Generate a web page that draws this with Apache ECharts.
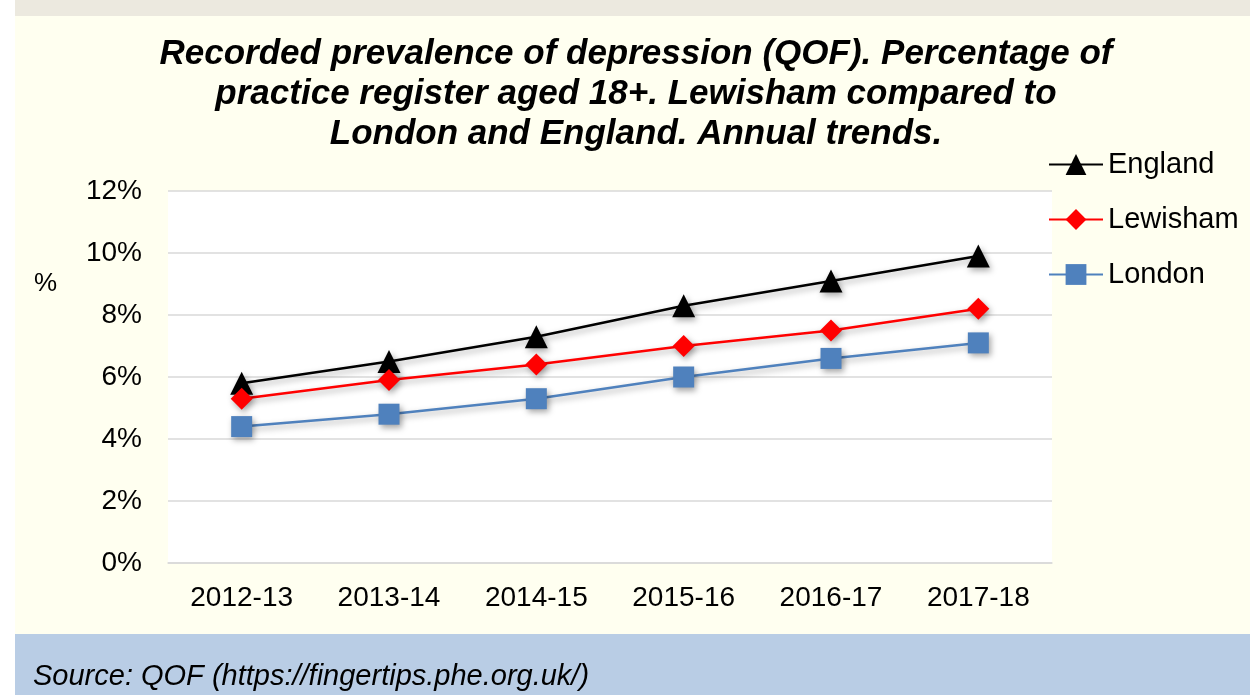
<!DOCTYPE html>
<html>
<head>
<meta charset="utf-8">
<script src="https://cdn.jsdelivr.net/npm/echarts@6/dist/echarts.min.js"></script>
<style>
  html, body { margin: 0; padding: 0; background: #fff; }
  #container { width: 1250px; height: 695px; }
</style>
</head>
<body>
<div id="container"></div>
<script>
// data
const years = ['2012-13', '2013-14', '2014-15', '2015-16', '2016-17', '2017-18'];
const england = [5.8, 6.5, 7.3, 8.3, 9.1, 9.9];
const lewisham = [5.3, 5.9, 6.4, 7.0, 7.5, 8.2];
const london = [4.4, 4.8, 5.3, 6.0, 6.6, 7.1];

(function () {
    const font = '"Liberation Sans", Arial, sans-serif';
    const shadow = { shadowBlur: 6, shadowColor: 'rgba(0,0,0,0.35)', shadowOffsetX: 2, shadowOffsetY: 3 };

    const makeSeries = (name, data, color, symbol, size) => {
        return {
            name: name,
            type: 'line',
            data: data,
            symbol: symbol,
            symbolSize: size,
            lineStyle: Object.assign({ color: color, width: 2.5 }, shadow),
            itemStyle: Object.assign({ color: color }, shadow),
            emphasis: { disabled: true },
            animation: false
        };
    };

    var dom = document.getElementById('container');
    var myChart = echarts.init(dom, null, { renderer: 'canvas' });

    myChart.setOption({
        animation: false,
        backgroundColor: '#ffffff',
        graphic: [
            { type: 'rect', z: -10, shape: { x: 15, y: 0, width: 1235, height: 16 }, style: { fill: '#ECE9DF' } },
            { type: 'rect', z: -10, shape: { x: 15, y: 16, width: 1235, height: 618 }, style: { fill: '#FFFFF0' } },
            { type: 'rect', z: -10, shape: { x: 15, y: 634, width: 1235, height: 61 }, style: { fill: '#B9CDE5' } },
            {
                type: 'text', left: 33, top: 662,
                style: { text: 'Source: QOF (https://fingertips.phe.org.uk/)', font: 'italic 29px ' + font, fill: '#000' }
            },
            {
                type: 'text', left: 34, top: 271,
                style: { text: '%', font: '26px ' + font, fill: '#000' }
            }
        ],
        title: {
            text: 'Recorded prevalence of depression (QOF). Percentage of\npractice register aged 18+. Lewisham compared to\nLondon and England. Annual trends.',
            left: 631,
            textAlign: 'center',
            top: 29,
            textStyle: {
                fontFamily: font,
                fontStyle: 'italic',
                fontWeight: 'bold',
                fontSize: 35,
                lineHeight: 40,
                color: '#000'
            }
        },
        legend: {
            orient: 'vertical',
            left: 1043,
            top: 145,
            itemWidth: 54,
            itemHeight: 26,
            itemGap: 26,
            textStyle: { fontFamily: font, fontSize: 29, lineHeight: 26, color: '#000' },
            data: ['England', 'Lewisham', 'London']
        },
        grid: {
            left: 168,
            right: 198,
            top: 191,
            bottom: 132,
            show: true,
            backgroundColor: '#ffffff',
            borderWidth: 0
        },
        xAxis: {
            type: 'category',
            data: years,
            axisLine: { show: true, lineStyle: { color: '#D9D9D9', width: 1.5 } },
            axisTick: { show: false },
            axisLabel: { fontFamily: font, fontSize: 28, color: '#000', margin: 21 }
        },
        yAxis: {
            type: 'value',
            min: 0,
            max: 12,
            interval: 2,
            axisLine: { show: false },
            axisTick: { show: false },
            axisLabel: { fontFamily: font, fontSize: 28, color: '#000', margin: 26, formatter: '{value}%' },
            splitLine: { lineStyle: { color: '#D9D9D9', width: 1.5 } }
        },
        series: [
            makeSeries('England', england, '#000000', 'triangle', 23),
            makeSeries('Lewisham', lewisham, '#FF0000', 'diamond', 22),
            makeSeries('London', london, '#4F81BD', 'rect', 21)
        ]
    });
})();
</script>
</body>
</html>
